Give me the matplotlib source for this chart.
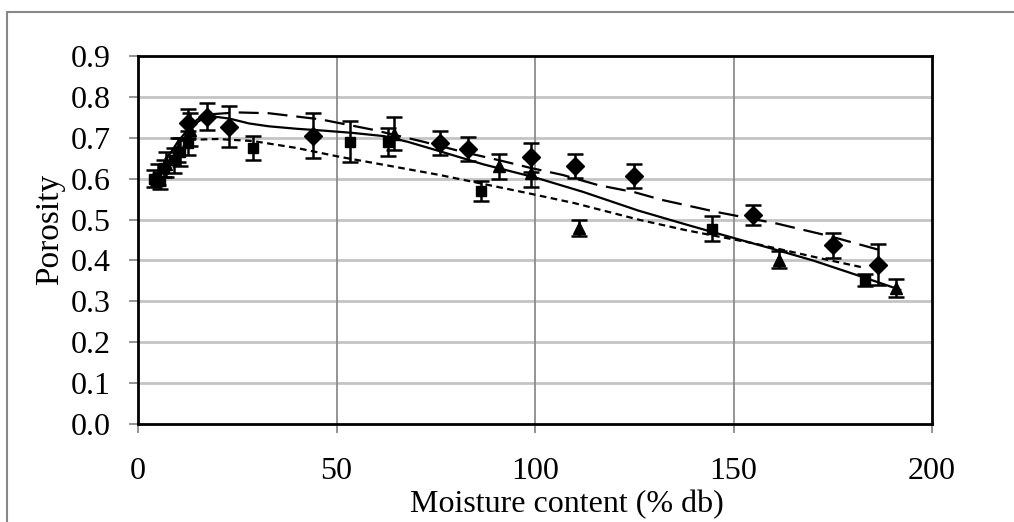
import matplotlib
matplotlib.use("Agg")
import matplotlib.pyplot as plt
from matplotlib.patches import Rectangle

plt.rcParams['font.family'] = ['Liberation Serif', 'DejaVu Serif']

# Diamonds
d_x = [12.5, 17.5, 23, 44, 76, 83, 99, 110, 125, 155, 175, 186.5]
d_y = [0.735, 0.752, 0.727, 0.705, 0.687, 0.672, 0.652, 0.631, 0.607, 0.511, 0.437, 0.39]
d_err = [0.035, 0.032, 0.05, 0.055, 0.03, 0.03, 0.035, 0.03, 0.03, 0.025, 0.03, 0.05]

# Squares
s_x = [4, 5.5, 6.5, 9, 10.5, 12.5, 29, 53.5, 63, 86.5, 144.5, 183]
s_y = [0.60, 0.595, 0.625, 0.645, 0.665, 0.687, 0.675, 0.69, 0.69, 0.57, 0.478, 0.352]
s_err = [0.02, 0.02, 0.02, 0.03, 0.035, 0.03, 0.03, 0.05, 0.035, 0.025, 0.03, 0.015]

# Triangles
t_x = [5, 7, 10, 13, 64.5, 91, 99, 111, 161.5, 191]
t_y = [0.61, 0.635, 0.67, 0.72, 0.71, 0.63, 0.615, 0.48, 0.402, 0.332]
t_err = [0.025, 0.03, 0.03, 0.04, 0.04, 0.03, 0.035, 0.02, 0.02, 0.022]

# Fitted curves
fit_solid_x = [4, 7, 10, 13, 16, 19, 23, 28, 33, 40, 46, 54, 62, 68, 75, 87, 100, 112, 126,
               138, 150, 160, 170, 183, 192]
fit_solid_y = [0.60, 0.645, 0.69, 0.725, 0.745, 0.752, 0.747, 0.735, 0.728, 0.722, 0.718, 0.712,
               0.704, 0.69, 0.67, 0.635, 0.603, 0.568, 0.522, 0.488, 0.455, 0.428, 0.40, 0.358, 0.328]
fit_dash_x = [12, 15, 19, 25, 33, 46, 59, 72, 82, 91, 99, 107, 116, 125, 132, 146, 161, 174, 187]
fit_dash_y = [0.72, 0.745, 0.758, 0.762, 0.76, 0.745, 0.72, 0.69, 0.665, 0.645, 0.626, 0.609,
              0.584, 0.567, 0.548, 0.518, 0.49, 0.46, 0.425]
fit_dot_x = [4, 7, 10.6, 13, 20, 29, 40, 51, 63, 76, 87, 98, 110, 126, 138, 155, 172, 183]
fit_dot_y = [0.60, 0.65, 0.692, 0.695, 0.697, 0.692, 0.675, 0.653, 0.632, 0.609, 0.587, 0.565,
             0.54, 0.50, 0.474, 0.442, 0.405, 0.382]

fig = plt.figure(figsize=(10.14, 5.22), dpi=100)
ax = fig.add_axes([138/1014, 1-424/522, (932-138)/1014, (424-56)/522])

# grid
for gy in [0.1, 0.2, 0.3, 0.4, 0.5, 0.6, 0.7, 0.8]:
    ax.axhline(gy, color='#c4c4c4', lw=2, zorder=0)
for gx in [50, 100, 150]:
    ax.axvline(gx, color='#8c8c8c', lw=1.3, zorder=0)

ax.plot(fit_solid_x, fit_solid_y, color='black', lw=1.6, zorder=2)
ax.plot(fit_dash_x, fit_dash_y, color='black', lw=1.6, dashes=(9, 4), zorder=2)
ax.plot(fit_dot_x, fit_dot_y, color='black', lw=1.6, dashes=(3, 2), zorder=2)

ekw = dict(ecolor='black', elinewidth=1.8, capsize=6, capthick=1.8, color='black', ls='none', zorder=3)
ax.errorbar(d_x, d_y, yerr=d_err, fmt='D', ms=9, **ekw)
ax.errorbar(s_x, s_y, yerr=s_err, fmt='s', ms=7, **ekw)
ax.errorbar(t_x, t_y, yerr=t_err, fmt='^', ms=8, **ekw)

ax.set_xlim(0, 200)
ax.set_ylim(0, 0.9)
ax.set_xticks([0, 50, 100, 150, 200])
ax.set_yticks([0.0, 0.1, 0.2, 0.3, 0.4, 0.5, 0.6, 0.7, 0.8, 0.9])
ax.set_yticklabels(['0.0', '0.1', '0.2', '0.3', '0.4', '0.5', '0.6', '0.7', '0.8', '0.9'])
ax.tick_params(axis='both', labelsize=23, length=6.5, width=1.2, color='#808080', direction='out')
ax.tick_params(axis='x', pad=17)
ax.tick_params(axis='y', pad=13)
for sp in ax.spines.values():
    sp.set_linewidth(2)
    sp.set_color('black')
ax.set_xlabel('Moisture content (% db)', fontsize=23, va='center')
ax.set_ylabel('Porosity', fontsize=24, va='center')
ax.xaxis.set_label_coords(0.54, -0.22)
ax.yaxis.set_label_coords(-0.111, 0.53)

fig.patches.append(Rectangle((7/1014, -0.1), 1.2, 1-12/522+0.1, transform=fig.transFigure,
                             fill=False, edgecolor='#888888', lw=1.5))

fig.savefig('out.png', dpi=100)
